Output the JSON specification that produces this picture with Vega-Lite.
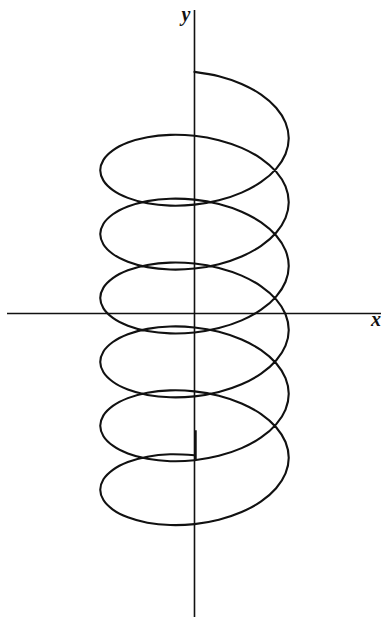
{
  "$schema": "https://vega.github.io/schema/vega-lite/v6.json",
  "width": 382,
  "height": 618,
  "autosize": {"type": "fit", "contains": "padding"},
  "padding": 0,
  "background": "white",
  "config": {"view": {"stroke": null}},
  "datasets": {
    "curve": [
      {"n":0,"x":0,"y":2.396},{"n":1,"x":0.2588,"y":2.3526},{"n":2,"x":0.5,"y":2.2762},{"n":3,"x":0.7071,"y":2.1704},
      {"n":4,"x":0.866,"y":2.0404},{"n":5,"x":0.9659,"y":1.8934},{"n":6,"x":1,"y":1.7376},{"n":7,"x":0.9659,"y":1.5818},
      {"n":8,"x":0.866,"y":1.4348},{"n":9,"x":0.7071,"y":1.3048},{"n":10,"x":0.5,"y":1.199},{"n":11,"x":0.2588,"y":1.1226},
      {"n":12,"x":0,"y":1.0792},{"n":13,"x":-0.2588,"y":1.0698},{"n":14,"x":-0.5,"y":1.0934},{"n":15,"x":-0.7071,"y":1.1464},
      {"n":16,"x":-0.866,"y":1.2236},{"n":17,"x":-0.9659,"y":1.3178},{"n":18,"x":-1,"y":1.4208},{"n":19,"x":-0.9659,"y":1.5238},
      {"n":20,"x":-0.866,"y":1.618},{"n":21,"x":-0.7071,"y":1.6952},{"n":22,"x":-0.5,"y":1.7482},{"n":23,"x":-0.2588,"y":1.7718},
      {"n":24,"x":0,"y":1.7624},{"n":25,"x":0.2588,"y":1.719},{"n":26,"x":0.5,"y":1.6426},{"n":27,"x":0.7071,"y":1.5368},
      {"n":28,"x":0.866,"y":1.4068},{"n":29,"x":0.9659,"y":1.2598},{"n":30,"x":1,"y":1.104},{"n":31,"x":0.9659,"y":0.9482},
      {"n":32,"x":0.866,"y":0.8012},{"n":33,"x":0.7071,"y":0.6712},{"n":34,"x":0.5,"y":0.5654},{"n":35,"x":0.2588,"y":0.489},
      {"n":36,"x":0,"y":0.4456},{"n":37,"x":-0.2588,"y":0.4362},{"n":38,"x":-0.5,"y":0.4598},{"n":39,"x":-0.7071,"y":0.5128},
      {"n":40,"x":-0.866,"y":0.59},{"n":41,"x":-0.9659,"y":0.6842},{"n":42,"x":-1,"y":0.7872},{"n":43,"x":-0.9659,"y":0.8902},
      {"n":44,"x":-0.866,"y":0.9844},{"n":45,"x":-0.7071,"y":1.0616},{"n":46,"x":-0.5,"y":1.1146},{"n":47,"x":-0.2588,"y":1.1382},
      {"n":48,"x":0,"y":1.1288},{"n":49,"x":0.2588,"y":1.0854},{"n":50,"x":0.5,"y":1.009},{"n":51,"x":0.7071,"y":0.9032},
      {"n":52,"x":0.866,"y":0.7732},{"n":53,"x":0.9659,"y":0.6262},{"n":54,"x":1,"y":0.4704},{"n":55,"x":0.9659,"y":0.3146},
      {"n":56,"x":0.866,"y":0.1676},{"n":57,"x":0.7071,"y":0.0376},{"n":58,"x":0.5,"y":-0.0682},{"n":59,"x":0.2588,"y":-0.1446},
      {"n":60,"x":0,"y":-0.188},{"n":61,"x":-0.2588,"y":-0.1974},{"n":62,"x":-0.5,"y":-0.1738},{"n":63,"x":-0.7071,"y":-0.1208},
      {"n":64,"x":-0.866,"y":-0.0436},{"n":65,"x":-0.9659,"y":0.0506},{"n":66,"x":-1,"y":0.1536},{"n":67,"x":-0.9659,"y":0.2566},
      {"n":68,"x":-0.866,"y":0.3508},{"n":69,"x":-0.7071,"y":0.428},{"n":70,"x":-0.5,"y":0.481},{"n":71,"x":-0.2588,"y":0.5046},
      {"n":72,"x":0,"y":0.4952},{"n":73,"x":0.2588,"y":0.4518},{"n":74,"x":0.5,"y":0.3754},{"n":75,"x":0.7071,"y":0.2696},
      {"n":76,"x":0.866,"y":0.1396},{"n":77,"x":0.9659,"y":-0.0074},{"n":78,"x":1,"y":-0.1632},{"n":79,"x":0.9659,"y":-0.319},
      {"n":80,"x":0.866,"y":-0.466},{"n":81,"x":0.7071,"y":-0.596},{"n":82,"x":0.5,"y":-0.7018},{"n":83,"x":0.2588,"y":-0.7782},
      {"n":84,"x":0,"y":-0.8216},{"n":85,"x":-0.2588,"y":-0.831},{"n":86,"x":-0.5,"y":-0.8074},{"n":87,"x":-0.7071,"y":-0.7544},
      {"n":88,"x":-0.866,"y":-0.6772},{"n":89,"x":-0.9659,"y":-0.583},{"n":90,"x":-1,"y":-0.48},{"n":91,"x":-0.9659,"y":-0.377},
      {"n":92,"x":-0.866,"y":-0.2828},{"n":93,"x":-0.7071,"y":-0.2056},{"n":94,"x":-0.5,"y":-0.1526},{"n":95,"x":-0.2588,"y":-0.129},
      {"n":96,"x":0,"y":-0.1384},{"n":97,"x":0.2588,"y":-0.1818},{"n":98,"x":0.5,"y":-0.2582},{"n":99,"x":0.7071,"y":-0.364},
      {"n":100,"x":0.866,"y":-0.494},{"n":101,"x":0.9659,"y":-0.641},{"n":102,"x":1,"y":-0.7968},{"n":103,"x":0.9659,"y":-0.9526},
      {"n":104,"x":0.866,"y":-1.0996},{"n":105,"x":0.7071,"y":-1.2296},{"n":106,"x":0.5,"y":-1.3354},{"n":107,"x":0.2588,"y":-1.4118},
      {"n":108,"x":0,"y":-1.4552},{"n":109,"x":-0.2588,"y":-1.4646},{"n":110,"x":-0.5,"y":-1.441},{"n":111,"x":-0.7071,"y":-1.388},
      {"n":112,"x":-0.866,"y":-1.3108},{"n":113,"x":-0.9659,"y":-1.2166},{"n":114,"x":-1,"y":-1.1136},{"n":115,"x":-0.9659,"y":-1.0106},
      {"n":116,"x":-0.866,"y":-0.9164},{"n":117,"x":-0.7071,"y":-0.8392},{"n":118,"x":-0.5,"y":-0.7862},{"n":119,"x":-0.2588,"y":-0.7626},
      {"n":120,"x":0,"y":-0.772},{"n":121,"x":0.2588,"y":-0.8154},{"n":122,"x":0.5,"y":-0.8918},{"n":123,"x":0.7071,"y":-0.9976},
      {"n":124,"x":0.866,"y":-1.1276},{"n":125,"x":0.9659,"y":-1.2746},{"n":126,"x":1,"y":-1.4304},{"n":127,"x":0.9659,"y":-1.5862},
      {"n":128,"x":0.866,"y":-1.7332},{"n":129,"x":0.7071,"y":-1.8632},{"n":130,"x":0.5,"y":-1.969},{"n":131,"x":0.2588,"y":-2.0454},
      {"n":132,"x":0,"y":-2.0888},{"n":133,"x":-0.2588,"y":-2.0982},{"n":134,"x":-0.5,"y":-2.0746},{"n":135,"x":-0.7071,"y":-2.0216},
      {"n":136,"x":-0.866,"y":-1.9444},{"n":137,"x":-0.9659,"y":-1.8502},{"n":138,"x":-1,"y":-1.7472},{"n":139,"x":-0.9659,"y":-1.6442},
      {"n":140,"x":-0.866,"y":-1.55},{"n":141,"x":-0.7071,"y":-1.4728},{"n":142,"x":-0.5,"y":-1.4198},{"n":143,"x":-0.2588,"y":-1.3962},
      {"n":144,"x":0,"y":-1.4056}
    ],
    "axes": [
      {"axis": "x", "x1": -1.989, "x2": 1.9788, "y1": 0, "y2": 0},
      {"axis": "y", "x1": 0, "x2": 0, "y1": 3.01, "y2": -3.0099}
    ],
    "tick": [
      {"x1": 0.012, "x2": 0.012, "y1": -1.158, "y2": -1.446}
    ],
    "labels": [
      {"label": "y", "x": -0.092, "y": 2.901},
      {"label": "x", "x": 1.926, "y": -0.1287}
    ]
  },
  "layer": [
    {
      "data": {"name": "axes"},
      "mark": {"type": "rule", "color": "#111111", "strokeWidth": 1.6},
      "encoding": {
        "x": {"field": "x1", "type": "quantitative", "scale": {"domain": [-2.0635, 1.9788], "nice": false, "zero": false}, "axis": null},
        "x2": {"field": "x2"},
        "y": {"field": "y1", "type": "quantitative", "scale": {"domain": [-3.0099, 3.1089], "nice": false, "zero": false}, "axis": null},
        "y2": {"field": "y2"}
      }
    },
    {
      "data": {"name": "tick"},
      "mark": {"type": "rule", "color": "#111111", "strokeWidth": 2.2},
      "encoding": {
        "x": {"field": "x1", "type": "quantitative", "scale": {"domain": [-2.0635, 1.9788], "nice": false, "zero": false}, "axis": null},
        "x2": {"field": "x2"},
        "y": {"field": "y1", "type": "quantitative", "scale": {"domain": [-3.0099, 3.1089], "nice": false, "zero": false}, "axis": null},
        "y2": {"field": "y2"}
      }
    },
    {
      "data": {"name": "curve"},
      "mark": {"type": "line", "color": "#111111", "strokeWidth": 2.1, "interpolate": "catmull-rom", "strokeJoin": "round", "strokeCap": "round"},
      "encoding": {
        "x": {"field": "x", "type": "quantitative", "scale": {"domain": [-2.0635, 1.9788], "nice": false, "zero": false}, "axis": null},
        "y": {"field": "y", "type": "quantitative", "scale": {"domain": [-3.0099, 3.1089], "nice": false, "zero": false}, "axis": null},
        "order": {"field": "n", "type": "quantitative"}
      }
    },
    {
      "data": {"name": "labels"},
      "mark": {"type": "text", "font": "Liberation Serif", "fontStyle": "italic", "fontWeight": "bold", "fontSize": 20, "color": "#111111", "align": "center", "baseline": "alphabetic"},
      "encoding": {
        "x": {"field": "x", "type": "quantitative", "scale": {"domain": [-2.0635, 1.9788], "nice": false, "zero": false}, "axis": null},
        "y": {"field": "y", "type": "quantitative", "scale": {"domain": [-3.0099, 3.1089], "nice": false, "zero": false}, "axis": null},
        "text": {"field": "label"}
      }
    }
  ]
}
